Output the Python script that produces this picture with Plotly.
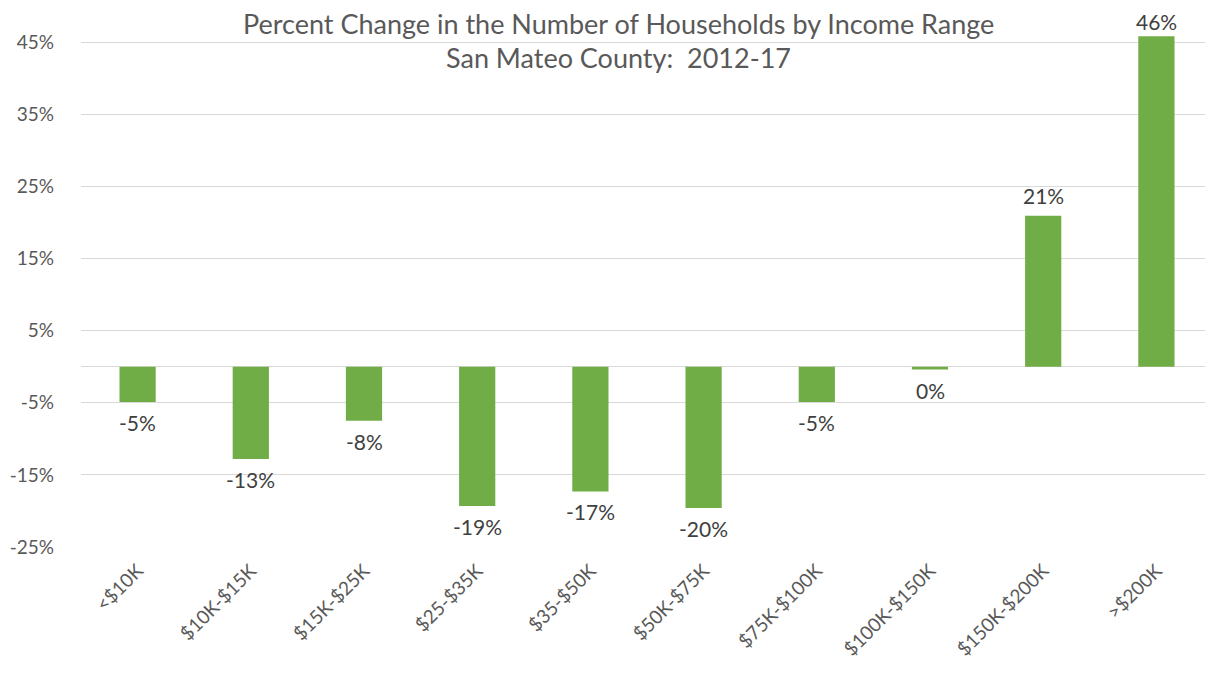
import plotly.graph_objects as go

categories = ["<$10K", "$10K-$15K", "$15K-$25K", "$25-$35K", "$35-$50K",
              "$50K-$75K", "$75K-$100K", "$100K-$150K", "$150K-$200K", ">$200K"]
pct_change = [-4.9, -12.8, -7.5, -19.3, -17.3, -19.6, -4.9, -0.4, 20.9, 45.8]
labels = ["-5%", "-13%", "-8%", "-19%", "-17%", "-20%", "-5%", "0%", "21%", "46%"]
y_ticks = [-25, -15, -5, 5, 15, 25, 35, 45]
y_tick_text = [f"{t}%" for t in y_ticks]

title_line1 = "Percent Change in the Number of Households by Income Range"
title_line2 = "San Mateo County:  2012-17"

FONT = "Lato, 'Open Sans', sans-serif"
GREY = "#595959"

fig = go.Figure(go.Bar(
    x=categories, y=pct_change,
    marker=dict(color="#70AD47", line=dict(width=0)),
    width=0.32, hoverinfo="skip",
))

# page body has an 8px margin; figure sized to fit the window exactly
W, H = 1205, 668
ml, mr, mt, mb = 73, 0, 0, 129
plot_h = H - mt - mb
plot_w = W - ml - mr
px_per_pct = (plot_h - 34) / 70.0

annotations = [
    dict(text=title_line1, x=(610 - ml) / plot_w, y=1 - 15 / plot_h,
         xref="paper", yref="paper", showarrow=False,
         xanchor="center", yanchor="middle",
         font=dict(family=FONT, size=27, color=GREY)),
    dict(text=title_line2, x=(610 - ml) / plot_w, y=1 - 50 / plot_h,
         xref="paper", yref="paper", showarrow=False,
         xanchor="center", yanchor="middle",
         font=dict(family=FONT, size=27, color=GREY)),
]
for cat, val, lab in zip(categories, pct_change, labels):
    annotations.append(dict(
        x=cat, y=val, text=lab, xref="x", yref="y", showarrow=False,
        xanchor="center", yanchor="bottom" if val >= 0 else "top",
        yshift=(0 if val > 40 else 6) if val >= 0 else -6,
        font=dict(family=FONT, size=21, color="#404040"),
    ))

fig.update_layout(
    width=W, height=H,
    margin=dict(l=ml, r=mr, t=mt, b=mb, autoexpand=False),
    paper_bgcolor="white", plot_bgcolor="white",
    showlegend=False,
    font=dict(family=FONT, color=GREY),
    xaxis=dict(tickangle=-45, tickfont=dict(size=19, color=GREY),
               showgrid=False, showline=False, ticks="", automargin=False,
               ticklabelstandoff=8),
    yaxis=dict(range=[-25, 45 + 34 / px_per_pct], tickvals=y_ticks, ticktext=y_tick_text,
               tickfont=dict(size=19, color=GREY), showgrid=True,
               gridcolor="#D9D9D9", gridwidth=1, zeroline=True,
               zerolinecolor="#D9D9D9", zerolinewidth=1, ticks="",
               ticklabelstandoff=26, automargin=False),
    annotations=annotations,
)

fig.write_html("out.html")
